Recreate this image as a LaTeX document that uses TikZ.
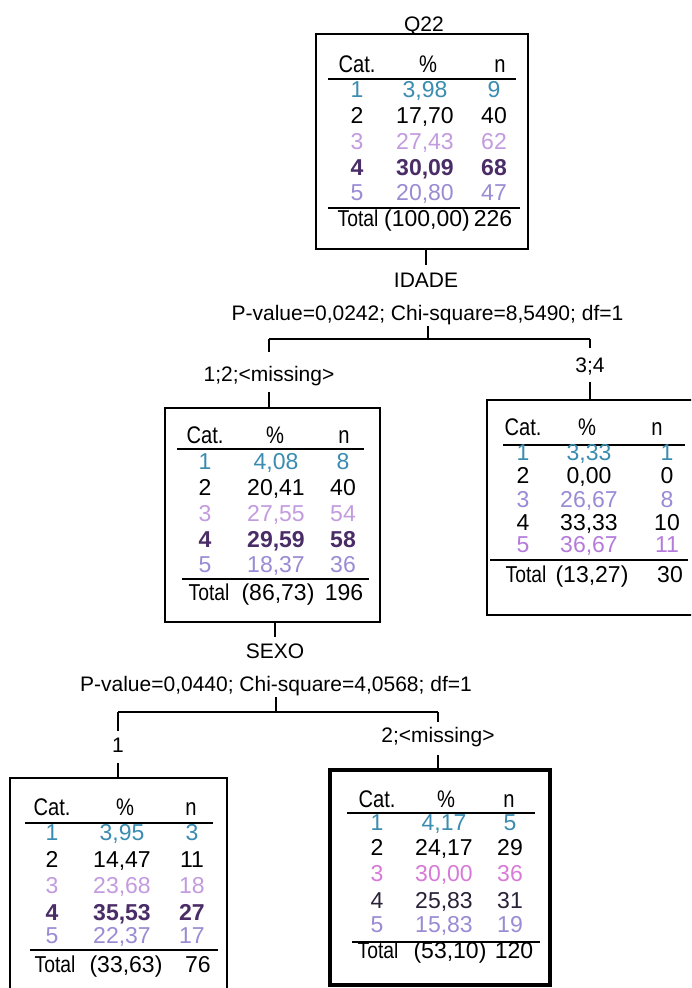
\documentclass[tikz,border=0pt]{standalone}
\usepackage{fontspec}
\setmainfont{Liberation Sans}
\newfontfamily\narrowfont{Liberation Sans}[FakeStretch=0.84]
\definecolor{cteal}{HTML}{3A8CB0}
\definecolor{clilac}{HTML}{C39BDF}
\definecolor{cplum}{HTML}{4A2C66}
\definecolor{clav}{HTML}{9A8BD4}
\definecolor{cmag}{HTML}{D77AD8}
\definecolor{cpink}{HTML}{B47BDA}
\definecolor{cdark}{HTML}{2A2238}
% one table row: prefix, baseline, style, category, percent, count
\newcommand\trow[6]{%
  \node[cell,#3] (#1a) at (\colA,#2) {#4};
  \node[cell,#3] (#1b) at (\colB,#2) {#5};
  \node[cell,#3] (#1c) at (\colC,#2) {#6};}
% table header: prefix, baseline, x of the three headings
\newcommand\thead[5]{%
  \node[head] (#1a) at (#3,#2) {Cat.};
  \node[head] (#1b) at (#4,#2) {\%};
  \node[head] (#1c) at (#5,#2) {n};}
\begin{document}
\begin{tikzpicture}[x=1pt,y=-1pt,
  every node/.style={inner sep=0pt,outer sep=0pt},
  cell/.style={anchor=base,font=\fontsize{23}{27}\selectfont},
  head/.style={anchor=base,font=\fontsize{24}{28}\narrowfont},
  lbl/.style={anchor=base,font=\fontsize{21}{25}\selectfont},
  box/.style={draw,rectangle,line width=2pt},
  bigbox/.style={draw,rectangle,line width=3.5pt},
  link/.style={line width=2pt},
  rule/.style={line width=2pt},
  strong/.style={font=\fontsize{23}{27}\selectfont\bfseries}]
\useasboundingbox (0,0) rectangle (691,988);
\clip (0,0) rectangle (691,988);
\fill[white] (0,0) rectangle (691,988);

% ---------- root node: Q22 ----------
\node[lbl] (q22) at (424,31) {Q22};
\node[box,minimum width=212pt,minimum height=215pt] (n0) at (422,141.5) {};
\thead{n0h}{72}{357}{428}{500}
\draw[rule] (328,79) -- (516,79);
\def\colA{357}\def\colB{425}\def\colC{494}
\trow{n0r1}{97}{cteal}{1}{3,98}{9}
\trow{n0r2}{123}{black}{2}{17,70}{40}
\trow{n0r3}{149}{clilac}{3}{27,43}{62}
\trow{n0r4}{175}{strong,cplum}{4}{30,09}{68}
\trow{n0r5}{200}{clav}{5}{20,80}{47}
\draw[rule] (328,208) -- (520,208);
\def\colA{358}\def\colB{427}\def\colC{493}
\trow{n0t}{226}{black}{\narrowfont Total}{(100,00)}{226}

% ---------- split on IDADE ----------
\node[lbl] (idade) at (426,287) {IDADE};
\node[lbl] (p1) at (427.5,320) {P-value=0,0242; Chi-square=8,5490; df=1};
\coordinate (b1m) at (427,339);
\node[lbl] (l11) at (269,381) {1;2;<missing>};
\node[lbl] (l12) at (590,372) {3;4};
\draw[link,shorten >=8pt] (n0.south -| idade) -- (idade.north);
\draw[link,shorten <=2pt] (p1.south) -- (p1.south |- b1m);
\draw[link] (b1m -| l11) -- (b1m -| l12);
\draw[link,shorten >=14pt] (b1m -| l11) -- (l11.north);
\draw[link,shorten >=9pt] (b1m -| l12) -- (l12.north);

% ---------- node: 1;2;<missing> ----------
\node[box,minimum width=215pt,minimum height=214pt] (n1) at (272.5,515) {};
\draw[link,shorten <=7pt] (l11.south) -- (l11.south |- n1.north);
\thead{n1h}{443}{205}{275}{344}
\draw[rule] (177,449) -- (364,449);
\def\colA{205}\def\colB{276}\def\colC{343}
\trow{n1r1}{469}{cteal}{1}{4,08}{8}
\trow{n1r2}{495}{black}{2}{20,41}{40}
\trow{n1r3}{521}{clilac}{3}{27,55}{54}
\trow{n1r4}{547}{strong,cplum}{4}{29,59}{58}
\trow{n1r5}{572}{clav}{5}{18,37}{36}
\draw[rule] (182,579) -- (369,579);
\def\colA{209}\def\colB{278}\def\colC{344}
\trow{n1t}{600}{black}{\narrowfont Total}{(86,73)}{196}

% ---------- node: 3;4 ----------
\node[box,minimum width=213pt,minimum height=215pt] (n2) at (593.5,507.5) {};
\draw[link,shorten <=7pt] (l12.south) -- (l12.south |- n2.north);
\thead{n2h}{435}{523}{587}{657}
\draw[rule] (503,445) -- (685,445);
\def\colA{523}\def\colB{589}\def\colC{667}
\trow{n2r1}{460}{cteal}{1}{3,33}{1}
\trow{n2r2}{483}{black}{2}{0,00}{0}
\trow{n2r3}{507}{clav}{3}{26,67}{8}
\trow{n2r4}{530}{black}{4}{33,33}{10}
\trow{n2r5}{552}{cpink}{5}{36,67}{11}
\draw[rule] (490,560) -- (688,560);
\def\colA{526}\def\colB{592}\def\colC{670}
\trow{n2t}{582}{black}{\narrowfont Total}{(13,27)}{30}

% ---------- split on SEXO ----------
\node[lbl] (sexo) at (275,658) {SEXO};
\node[lbl] (p2) at (276,691) {P-value=0,0440; Chi-square=4,0568; df=1};
\coordinate (b2m) at (277,712);
\node[lbl] (l21) at (118,752) {1};
\node[lbl] (l22) at (438,742) {2;<missing>};
\draw[link,shorten >=6pt] (n1.south -| sexo) -- (sexo.north);
\draw[link,shorten <=2pt] (p2.south) -- (p2.south |- b2m);
\draw[link] (b2m -| l21) -- (b2m -| l22);
\draw[link,shorten >=7pt] (b2m -| l21) -- (l21.north);
\draw[link,shorten >=5pt] (b2m -| l22) -- (l22.north);

% ---------- node: 1 ----------
\node[box,minimum width=217pt,minimum height=222pt] (n3) at (118.5,889) {};
\draw[link,shorten <=11pt] (l21.south) -- (l21.south |- n3.north);
\thead{n3h}{815}{52}{125}{191}
\draw[rule] (25,823) -- (213,823);
\def\colA{52}\def\colB{122}\def\colC{192}
\trow{n3r1}{840}{cteal}{1}{3,95}{3}
\trow{n3r2}{867}{black}{2}{14,47}{11}
\trow{n3r3}{893}{clilac}{3}{23,68}{18}
\trow{n3r4}{920}{strong,cplum}{4}{35,53}{27}
\trow{n3r5}{943}{clav}{5}{22,37}{17}
\draw[rule] (30,950) -- (218,950);
\def\colA{55}\def\colB{126}\def\colC{198}
\trow{n3t}{972}{black}{\narrowfont Total}{(33,63)}{76}

% ---------- node: 2;<missing> ----------
\node[bigbox,minimum width=220pt,minimum height=215pt] (n4) at (440,877.5) {};
\draw[link,shorten <=9pt] (l22.south) -- (l22.south |- n4.north);
\thead{n4h}{807}{377}{446}{509}
\draw[rule] (347,813) -- (535,813);
\def\colA{377}\def\colB{444}\def\colC{510}
\trow{n4r1}{830}{cteal}{1}{4,17}{5}
\trow{n4r2}{855}{black}{2}{24,17}{29}
\trow{n4r3}{881}{cmag}{3}{30,00}{36}
\trow{n4r4}{908}{cdark}{4}{25,83}{31}
\trow{n4r5}{932}{clav}{5}{15,83}{19}
\draw[rule] (352,942) -- (540,942);
\def\colA{378}\def\colB{450}\def\colC{514}
\trow{n4t}{958}{black}{\narrowfont Total}{(53,10)}{120}
\end{tikzpicture}
\end{document}
